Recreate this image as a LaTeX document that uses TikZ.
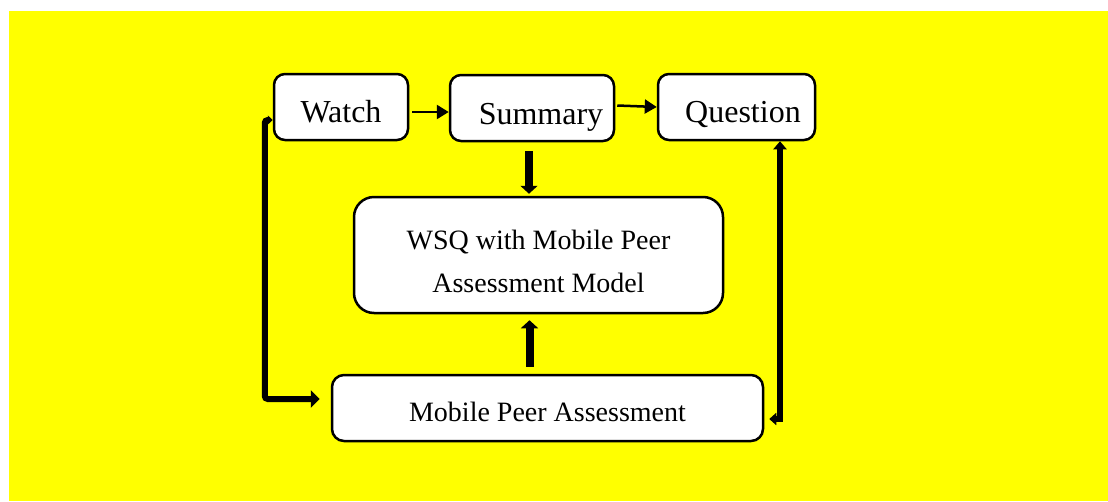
\documentclass[tikz,border=0pt]{standalone}
\usepackage{fontspec}
\setmainfont{Liberation Serif}
\newfontfamily\tnr{Liberation Serif}
\usetikzlibrary{arrows.meta,calc}
\definecolor{bgyellow}{RGB}{255,255,0}
\tikzset{
  box/.style={draw=black, line width=2.5pt, fill=white, inner sep=0pt, align=center},
  thinarrow/.style={line width=2.5pt, -{Triangle[length=12pt,width=14pt]}},
  fatarrow/.style={line width=8pt, -{Triangle[length=8pt,width=17pt]}},
  loopleft/.style={line width=6pt, rounded corners=3pt, {Triangle[length=5pt,width=9pt]}-{Triangle[length=9pt,width=17pt]}},
  loopright/.style={line width=6pt, {Triangle[length=8pt,width=13pt]}-{Triangle[length=7pt,width=12pt]}},
  bigtext/.style={font=\tnr\fontsize{32}{38}\selectfont}
}
\begin{document}
\begin{tikzpicture}[x=1pt,y=-1pt]
  \useasboundingbox (0,0) rectangle (1108,501);
  \fill[white] (0,0) rectangle (1108,501);
  \fill[bgyellow] (9,11) rectangle (1108,501);

  \node[box, bigtext, rounded corners=11pt, minimum width=134pt, minimum height=66pt, text height=30pt, text depth=0pt] (watch) at (341,107) {Watch};
  \node[box, bigtext, rounded corners=11pt, minimum width=164pt, minimum height=66pt, text height=32pt, text depth=0pt] (summary) at (532,108) {\hspace*{18pt}Summary};
  \node[box, bigtext, rounded corners=11pt, minimum width=157pt, minimum height=66pt, text height=30pt, text depth=0pt] (question) at (736.5,107) {\hspace*{13pt}Question};
  \node[box, font=\tnr\fontsize{28}{43}\selectfont, rounded corners=20pt, minimum width=369pt, minimum height=116pt] (wsq) at (538.5,255) {\rule{0pt}{32pt}WSQ with Mobile Peer\\Assessment Model};
  \node[box, font=\tnr\fontsize{28}{34}\selectfont, rounded corners=12pt, minimum width=431pt, minimum height=66pt, text height=27.5pt, text depth=0pt] (mpa) at (547.5,408) {Mobile Peer Assessment};

  \draw[thinarrow] ($(watch.east)+(3,5)$) -- ($(summary.west)+(0,4)$);
  \draw[thinarrow] ($(summary.east)+(2,-2.5)$) -- (question.west);
  \draw[fatarrow] ($(summary.south)+(-3,9)$) -- ($(wsq.north)+(-9.5,-2)$);
  \draw[fatarrow] ($(mpa.north)+(-18,-7)$) -- ($(wsq.south)+(-9,6)$);

  \draw[loopleft] ($(watch.west)+(0,13)$) -- ++(-8,0) |- ($(mpa.west)+(-11,-9)$);
  \draw[loopright] ($(question.south)+(43.5,0)$) |- ($(mpa.east)+(5,11)$);
\end{tikzpicture}
\end{document}
